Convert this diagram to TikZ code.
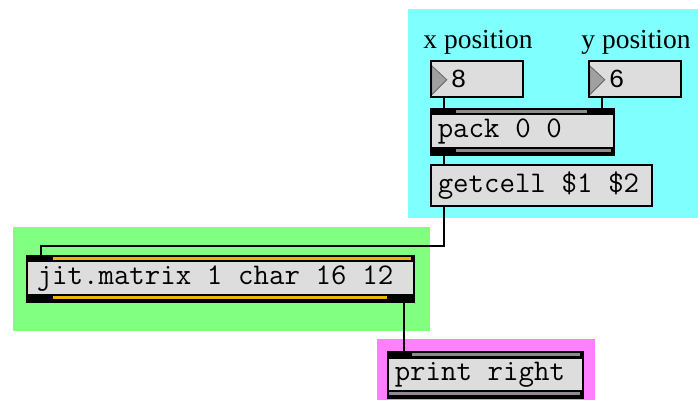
\documentclass[tikz,border=0pt]{standalone}
\usepackage{fontspec}
\newfontfamily\numfont{Liberation Mono}
\newfontfamily\maxserif{Liberation Serif}
\newcommand\objfont{\ttfamily\fontsize{30}{30}\selectfont}
\newcommand\monospacing{\spaceskip 0.525em\relax\xspaceskip 0.525em\relax}

\definecolor{patchcyan}{RGB}{128,255,255}
\definecolor{patchgreen}{RGB}{128,255,128}
\definecolor{patchpink}{RGB}{255,128,255}
\definecolor{boxgray}{RGB}{221,221,221}
\definecolor{stripgray}{RGB}{140,140,140}
\definecolor{stripyellow}{RGB}{232,184,0}
\definecolor{trigray}{RGB}{160,160,160}

\tikzset{
    objbox/.style={draw=black, line width=1.5pt, fill=boxgray, anchor=north west,
        align=left, inner xsep=7pt, inner ysep=0pt, font=\objfont,
        execute at begin node=\monospacing},
    numbox/.style={objbox, inner xsep=20pt,
        font=\numfont\fontsize{26}{26}\selectfont,
        path picture={\fill[trigray, draw=black!60, line width=0.8pt]
            ([xshift=1pt,yshift=-5pt]path picture bounding box.north west)
            -- ([xshift=16pt,yshift=-1pt]path picture bounding box.west)
            -- ([xshift=1pt,yshift=2pt]path picture bounding box.south west) -- cycle;}},
    wire/.style={line width=2pt, black},
    headtext/.style={anchor=base, font=\maxserif\fontsize{27.5}{27.5}\selectfont}
}

\begin{document}
\begin{tikzpicture}[x=1pt, y=-1pt]
        \useasboundingbox (0,0) rectangle (698,400);
        % coloured panels
        \fill[patchcyan] (408,9) rectangle (698,218);
        \fill[patchgreen] (13,227) rectangle (430,331);
        \fill[patchpink] (377,339) rectangle (595,400);

        \node[headtext] (xlabel) at (478,48) {x position};
        \node[headtext] (ylabel) at (636,48) {y position};

        \node[numbox, minimum width=92pt, minimum height=36pt, text width=52pt] (xnum) at (430,60) {8};
        \node[numbox, minimum width=92pt, minimum height=36pt, text width=52pt] (ynum) at (588,60) {6};
        \node[objbox, minimum height=46pt, text width=169pt] (pack) at (430,108) {pack 0 0};
        \node[objbox, minimum height=41pt, text width=207pt] (getcell) at (430,164) {getcell \$1 \$2};
        \node[objbox, inner xsep=10pt, minimum height=46pt, text width=367pt] (jitmatrix) at (26,255) {jit.matrix 1 char 16 12};
        \node[objbox, minimum height=46pt, text width=181pt] (printright) at (387,351) {print right};

        % inlet and outlet strips
        \fill (430,108) rectangle (613,115);
        \fill[stripgray] (456,110) rectangle (587,113);
        \fill (430,147) rectangle (613,154);
        \fill[stripgray] (456,149) rectangle (611,152);
        \fill (26,255) rectangle (413,262);
        \fill[stripyellow] (53,257) rectangle (411,260);
        \fill (26,294) rectangle (413,301);
        \fill[stripyellow] (53,296) rectangle (387,299);
        \fill (387,351) rectangle (582,359);
        \fill[stripgray] (412,353) rectangle (580,356);
        \fill (387,390) rectangle (582,397);
        \fill[stripgray] (389,392) rectangle (580,395);

        % patch cords
        \draw[wire] ([xshift=14pt]xnum.south west) -- ([xshift=14pt]pack.north west);
        \draw[wire] ([xshift=14pt]ynum.south west) -- ([xshift=14pt]pack.north west -| ynum.south west);
        \draw[wire] ([xshift=14pt]pack.south west) -- ([xshift=14pt]getcell.north west);
        \draw[wire] ([xshift=14pt]getcell.south west) -- ++(0,39) -| ([xshift=15pt]jitmatrix.north west);
        \draw[wire] ([xshift=-11pt]jitmatrix.south east) -- ([xshift=-11pt]jitmatrix.south east |- printright.north);
    \end{tikzpicture}
\end{document}
